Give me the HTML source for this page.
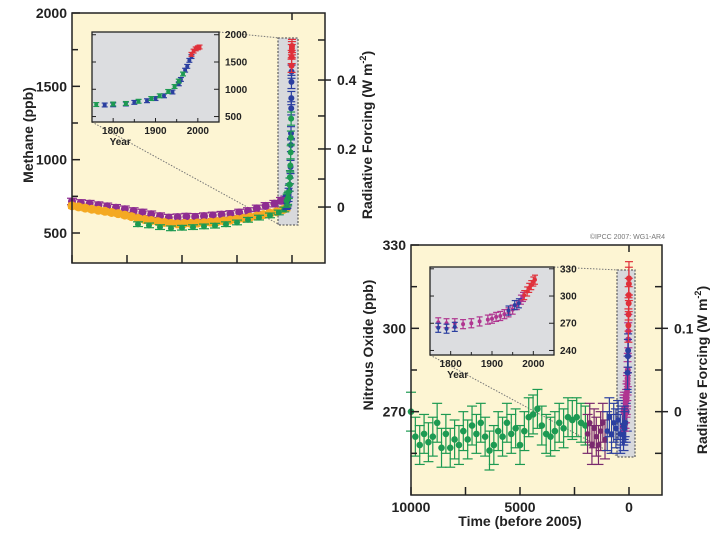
<!DOCTYPE html>
<html><head><meta charset="utf-8"><style>
body{margin:0;background:#fff;width:720px;height:540px;overflow:hidden}
svg{display:block;font-family:"Liberation Sans",Arial,sans-serif;font-weight:bold}
</style></head><body>
<svg id="fig" width="720" height="540" viewBox="0 0 720 540" xmlns="http://www.w3.org/2000/svg"></svg>
<script>
// ---------- DATA ----------
const ch4PurpleX=[10000,9600,9200,8800,8400,8000,7600,7200,6800,6400,6000,5600,5200,4800,4400,4000,3600,3200,2800,2400,2000,1600,1200,800,500,300];
const ch4PurpleY=[715,705,700,690,682,672,662,650,640,628,615,605,608,612,610,615,620,625,630,640,650,668,685,700,720,730];
const ch4OrangeX=[10000,9700,9400,9100,8800,8500,8200,7900,7600,7300,7000,6700,6400,6100,5800,5500,5200,4900,4600,4300,4000,3700,3400,3100,2800,2500,2200,1900,1600,1300,1000,700,400,250];
const ch4OrangeY=[685,678,670,662,655,648,640,632,622,612,600,592,585,578,572,566,562,565,566,568,570,574,578,582,588,594,600,608,615,625,635,645,660,670];
const ch4GreenX=[7000,6500,6000,5500,5000,4500,4000,3500,3000,2500,2000,1500,1000,600,350];
const ch4GreenY=[560,552,540,532,536,540,545,550,560,572,590,605,620,640,660];
const ch4BlueYr=[1750,1780,1800,1830,1850,1880,1900,1920,1940,1955,1960,1970,1975,1980,1985];
const ch4BlueV=[705,712,715,730,760,790,830,880,950,1100,1180,1350,1420,1530,1600];
const ch4GrnYr=[1760,1800,1830,1860,1890,1910,1930,1945,1955,1965];
const ch4GrnV=[720,730,740,780,830,880,960,1050,1150,1280];
const ch4RedYr=[1985,1990,1995,2000,2004];
const ch4RedV=[1640,1700,1740,1760,1775];
const ch4YTicks=[500,1000,1500,2000];
const ch4InsetYTicks=[500,1000,1500,2000];
const ch4RfLabels=["0","0.2","0.4"];
const ch4RfPpb=[677,1073,1543];
const ch4RfMinorPpb=[868,1298,1816];
const n2oGreenX=[10000,9800,9600,9400,9200,9000,8800,8600,8400,8200,8000,7800,7600,7400,7200,7000,6800,6600,6400,6200,6000,5800,5600,5400,5200,5000,4800,4600,4400,4200,4000,3800,3600,3400,3200,3000,2800,2600,2400,2200,2000];
const n2oGreenY=[270,261,258,262,259,261,266,257,262,257,260,258,263,260,265,262,266,261,256,258,263,261,266,262,264,258,263,268,269,271,265,262,261,263,266,264,268,267,268,266,265];
const n2oPurpleX=[1900,1800,1700,1600,1500,1400,1300,1200,1100];
const n2oPurpleY=[262,266,258,264,261,258,263,266,260];
const n2oBlueX=[1000,900,800,700,600,500,400,300,250,200,150,100];
const n2oBlueY=[263,268,262,266,264,267,262,265,263,268,266,270];
const n2oMagYr=[1750,1770,1790,1810,1830,1850,1870,1890,1900,1910,1920,1930,1940,1950,1960,1970,1975];
const n2oMagV=[270,271,270,270,269,270,272,274,275,277,278,280,282,285,290,296,299];
const n2oBlueYr=[1770,1790,1810,1940,1955,1965];
const n2oBlueV=[265,264,266,284,290,292];
const n2oRedYr=[1978,1985,1990,1995,2000,2004];
const n2oRedV=[301,305,309,312,316,318];
const n2oYTicks=[270,300,330];
const n2oInsetYTicks=[240,270,300,330];
const n2oRfLabels=["0","0.1"];
const n2oRfPpb=[270,300];
const n2oRfMinorPpb=[255,285,315];
const timeTicks=[10000,5000,0];
const timeMinor=[7500,2500];
const insetYearTicks=[1800,1900,2000];

// ---------- HELPERS ----------
const NS="http://www.w3.org/2000/svg";
const svg=document.getElementById('fig');
function el(tag,attrs,parent){const e=document.createElementNS(NS,tag);for(const k in attrs)e.setAttribute(k,attrs[k]);(parent||svg).appendChild(e);return e;}
function lin(d0,d1,r0,r1){return v=>r0+(v-d0)*(r1-r0)/(d1-d0);}
function txt(s,x,y,size,anchor,parent,name){const t=el('text',{x:x,y:y,'font-size':size,'text-anchor':anchor||'middle',fill:'#222'},parent);t.textContent=s;

return t;}
function series(g,X,Y,sx,sy,color,r,err,name,clipX,cap){
  const grp=el('g',{},g);
  
  
  const cw=cap||3.5;
  for(let i=0;i<X.length;i++){
    const px=sx(X[i]),py=sy(Y[i]);
    if(clipX&&(px<clipX[0]||px>clipX[1]))continue;
    const e1=sy(Y[i]+err),e2=sy(Y[i]-err);
    el('line',{x1:px,x2:px,y1:e1,y2:e2,stroke:color,'stroke-width':1.2},grp);
    el('line',{x1:px-cw,x2:px+cw,y1:e1,y2:e1,stroke:color,'stroke-width':1.2},grp);
    el('line',{x1:px-cw,x2:px+cw,y1:e2,y2:e2,stroke:color,'stroke-width':1.2},grp);
    const c=el('circle',{cx:px,cy:py,r:r,fill:color},grp);
    
    
  }
}
function panel(cfg){
  const g=el('g',{});
  
  
  const {x0,x1,y0,y1}=cfg;
  const sx=lin(10000,cfg.xmin,x0,x1), sy=lin(cfg.ymin,cfg.ymax,y1,y0);
  const bg=el('rect',{x:x0,y:y0,width:x1-x0,height:y1-y0,fill:'#fdf5d3'},g);
  
  
  const hb=cfg.hbox;
  el('rect',{x:hb[0],y:hb[1],width:hb[2]-hb[0],height:hb[3]-hb[1],fill:'#d8d9dc',stroke:'#666','stroke-dasharray':'2,1.5','stroke-width':1.3},g);
  const ib=cfg.inset;
  el('line',{x1:ib[2],y1:ib[1],x2:hb[0]+2,y2:hb[1],stroke:'#777','stroke-dasharray':'1.5,1.5'},g);
  el('line',{x1:ib[0],y1:ib[3],x2:hb[0]+2,y2:hb[3],stroke:'#777','stroke-dasharray':'1.5,1.5'},g);
  cfg.main.forEach(s=>series(g,s[0],s[1],sx,sy,s[2],s[3],s[4],s[5],null,s[6]));
  cfg.insetSeries.forEach(s=>series(g,s[0].map(y=>2005-y),s[1],sx,sy,s[2],3,cfg.recentErr,s[3]+'-recent',null,4));
  el('rect',{x:x0,y:y0,width:x1-x0,height:y1-y0,fill:'none',stroke:'#222','stroke-width':1.5},g);
  const ax=el('g',{},g);
  
  
  cfg.yTicks.forEach(v=>{el('line',{x1:x0,x2:x0+8,y1:sy(v),y2:sy(v),stroke:'#222','stroke-width':1.5},ax);txt(String(v),x0-5,sy(v)+5,14,'end',ax,'y-tick-label');});
  cfg.yMinor.forEach(v=>el('line',{x1:x0,x2:x0+6,y1:sy(v),y2:sy(v),stroke:'#222','stroke-width':1.5},ax));
  const rx=el('g',{},g);
  
  
  cfg.rfPpb.forEach((v,i)=>{el('line',{x1:x1-7,x2:x1+6,y1:sy(v),y2:sy(v),stroke:'#222','stroke-width':1.5},rx);txt(cfg.rfLabels[i],x1+12,sy(v)+5,14,'start',rx,'rf-tick-label');});
  cfg.rfMinor.forEach(v=>el('line',{x1:x1-7,x2:x1,y1:sy(v),y2:sy(v),stroke:'#222','stroke-width':1.5},rx));
  const bx=el('g',{},g);
  
  
  timeTicks.concat(timeMinor).forEach(v=>{el('line',{x1:sx(v),x2:sx(v),y1:y1,y2:y1-8,stroke:'#222','stroke-width':1.5},bx);});
  el('line',{x1:sx(0),x2:sx(0),y1:y0,y2:y0+7,stroke:'#222','stroke-width':1.5},bx);
  if(cfg.xLabels) timeTicks.forEach(v=>txt(String(v),sx(v),y1+17,14,'middle',bx,'x-tick-label'));
  const ig=el('g',{},g);
  
  
  const isx=lin(1750,2050,ib[0],ib[2]), isy=lin(cfg.iymin,cfg.iymax,ib[3],ib[1]);
  el('rect',{x:ib[0],y:ib[1],width:ib[2]-ib[0],height:ib[3]-ib[1],fill:'#dcdde0'},ig);
  cfg.insetSeries.forEach(s=>series(ig,s[0],s[1],isx,isy,s[2],2,cfg.insetErr,s[3]+'-inset',[ib[0]+1,ib[2]-1],3));
  el('rect',{x:ib[0],y:ib[1],width:ib[2]-ib[0],height:ib[3]-ib[1],fill:'none',stroke:'#222','stroke-width':1.3},ig);
  cfg.iyTicks.forEach(v=>{const y=isy(v);el('line',{x1:ib[2]-5,x2:ib[2],y1:y,y2:y,stroke:'#222'},ig);el('line',{x1:ib[0],x2:ib[0]+4,y1:y,y2:y,stroke:'#222'},ig);txt(String(v),ib[2]+6,y+3.5,10,'start',ig,'inset-y-tick-label');});
  insetYearTicks.forEach(v=>{const x=isx(v);el('line',{x1:x,x2:x,y1:ib[3],y2:ib[3]-4,stroke:'#222'},ig);txt(String(v),x,ib[3]+12,10,'middle',ig,'inset-x-tick-label');});
  [1850,1950].forEach(v=>{const x=isx(v);el('line',{x1:x,x2:x,y1:ib[3],y2:ib[3]-3,stroke:'#222'},ig);});
  txt('Year',isx(1800)+7,ib[3]+23,10,'middle',ig,'inset-x-axis-title');
  const lt=txt(cfg.yTitle,0,0,14,'middle',g,'y-axis-title');
  lt.setAttribute('transform','translate('+cfg.yTitlePos[0]+','+cfg.yTitlePos[1]+') rotate(-90)');
  const rt=el('text',{'font-size':14,'text-anchor':'middle',fill:'#222',transform:'translate('+cfg.rTitlePos[0]+','+cfg.rTitlePos[1]+') rotate(-90)'},g);
  
  
  rt.innerHTML='Radiative Forcing (W m<tspan dy="-6" font-size="9">-2</tspan><tspan dy="6">)</tspan>';
}

panel({name:'methane-chart',x0:72,x1:325,y0:13,y1:263,xmin:-1500,ymin:295.5,ymax:2000,
  hbox:[278,38,298,225],inset:[92,32,219,122],iymin:400,iymax:2050,insetErr:35,recentErr:45,
  main:[[ch4PurpleX,ch4PurpleY,'#8e2d91',4,22,'methane-purple-series',5],
        [ch4OrangeX,ch4OrangeY,'#f4a922',4.5,18,'methane-orange-series',4],
        [ch4GreenX,ch4GreenY,'#1d9a52',3,16,'methane-green-series',5]],
  insetSeries:[[ch4BlueYr,ch4BlueV,'#2b3fa0','methane-blue'],[ch4GrnYr,ch4GrnV,'#1d9a52','methane-green'],[ch4RedYr,ch4RedV,'#e0303a','methane-red']],
  yTicks:ch4YTicks,yMinor:[750,1250,1750],iyTicks:ch4InsetYTicks,
  rfLabels:ch4RfLabels,rfPpb:ch4RfPpb,rfMinor:ch4RfMinorPpb,xLabels:false,
  yTitle:'Methane (ppb)',yTitlePos:[33,135],rTitlePos:[372,135]});

panel({name:'nitrous-oxide-chart',x0:411,x1:662,y0:245,y1:495,xmin:-1514,ymin:240,ymax:330,
  hbox:[617,270,635,457],inset:[430,267,554,355],iymin:235,iymax:332,insetErr:5,recentErr:6,
  main:[[n2oGreenX,n2oGreenY,'#1d9a52',3.3,7,'n2o-green-series',5],
        [n2oPurpleX,n2oPurpleY,'#7a2a6e',2.8,7,'n2o-purple-series',5],
        [n2oBlueX,n2oBlueY,'#2b3fa0',2.8,7,'n2o-blue-series',5]],
  insetSeries:[[n2oMagYr,n2oMagV,'#b03590','n2o-magenta'],[n2oBlueYr,n2oBlueV,'#2b3fa0','n2o-blue'],[n2oRedYr,n2oRedV,'#e0303a','n2o-red']],
  yTicks:n2oYTicks,yMinor:[255,285,315],iyTicks:n2oInsetYTicks,
  rfLabels:n2oRfLabels,rfPpb:n2oRfPpb,rfMinor:n2oRfMinorPpb,xLabels:true,
  yTitle:'Nitrous Oxide (ppb)',yTitlePos:[373,345],rTitlePos:[707,370]});

txt('Time (before 2005)',520,526,14,'middle',svg,'x-axis-title');
const cp=txt('©IPCC 2007: WG1-AR4',665,239,7,'end',svg,'copyright-note');
cp.setAttribute('fill','#777');cp.setAttribute('font-weight','normal');
</script>
</body></html>
